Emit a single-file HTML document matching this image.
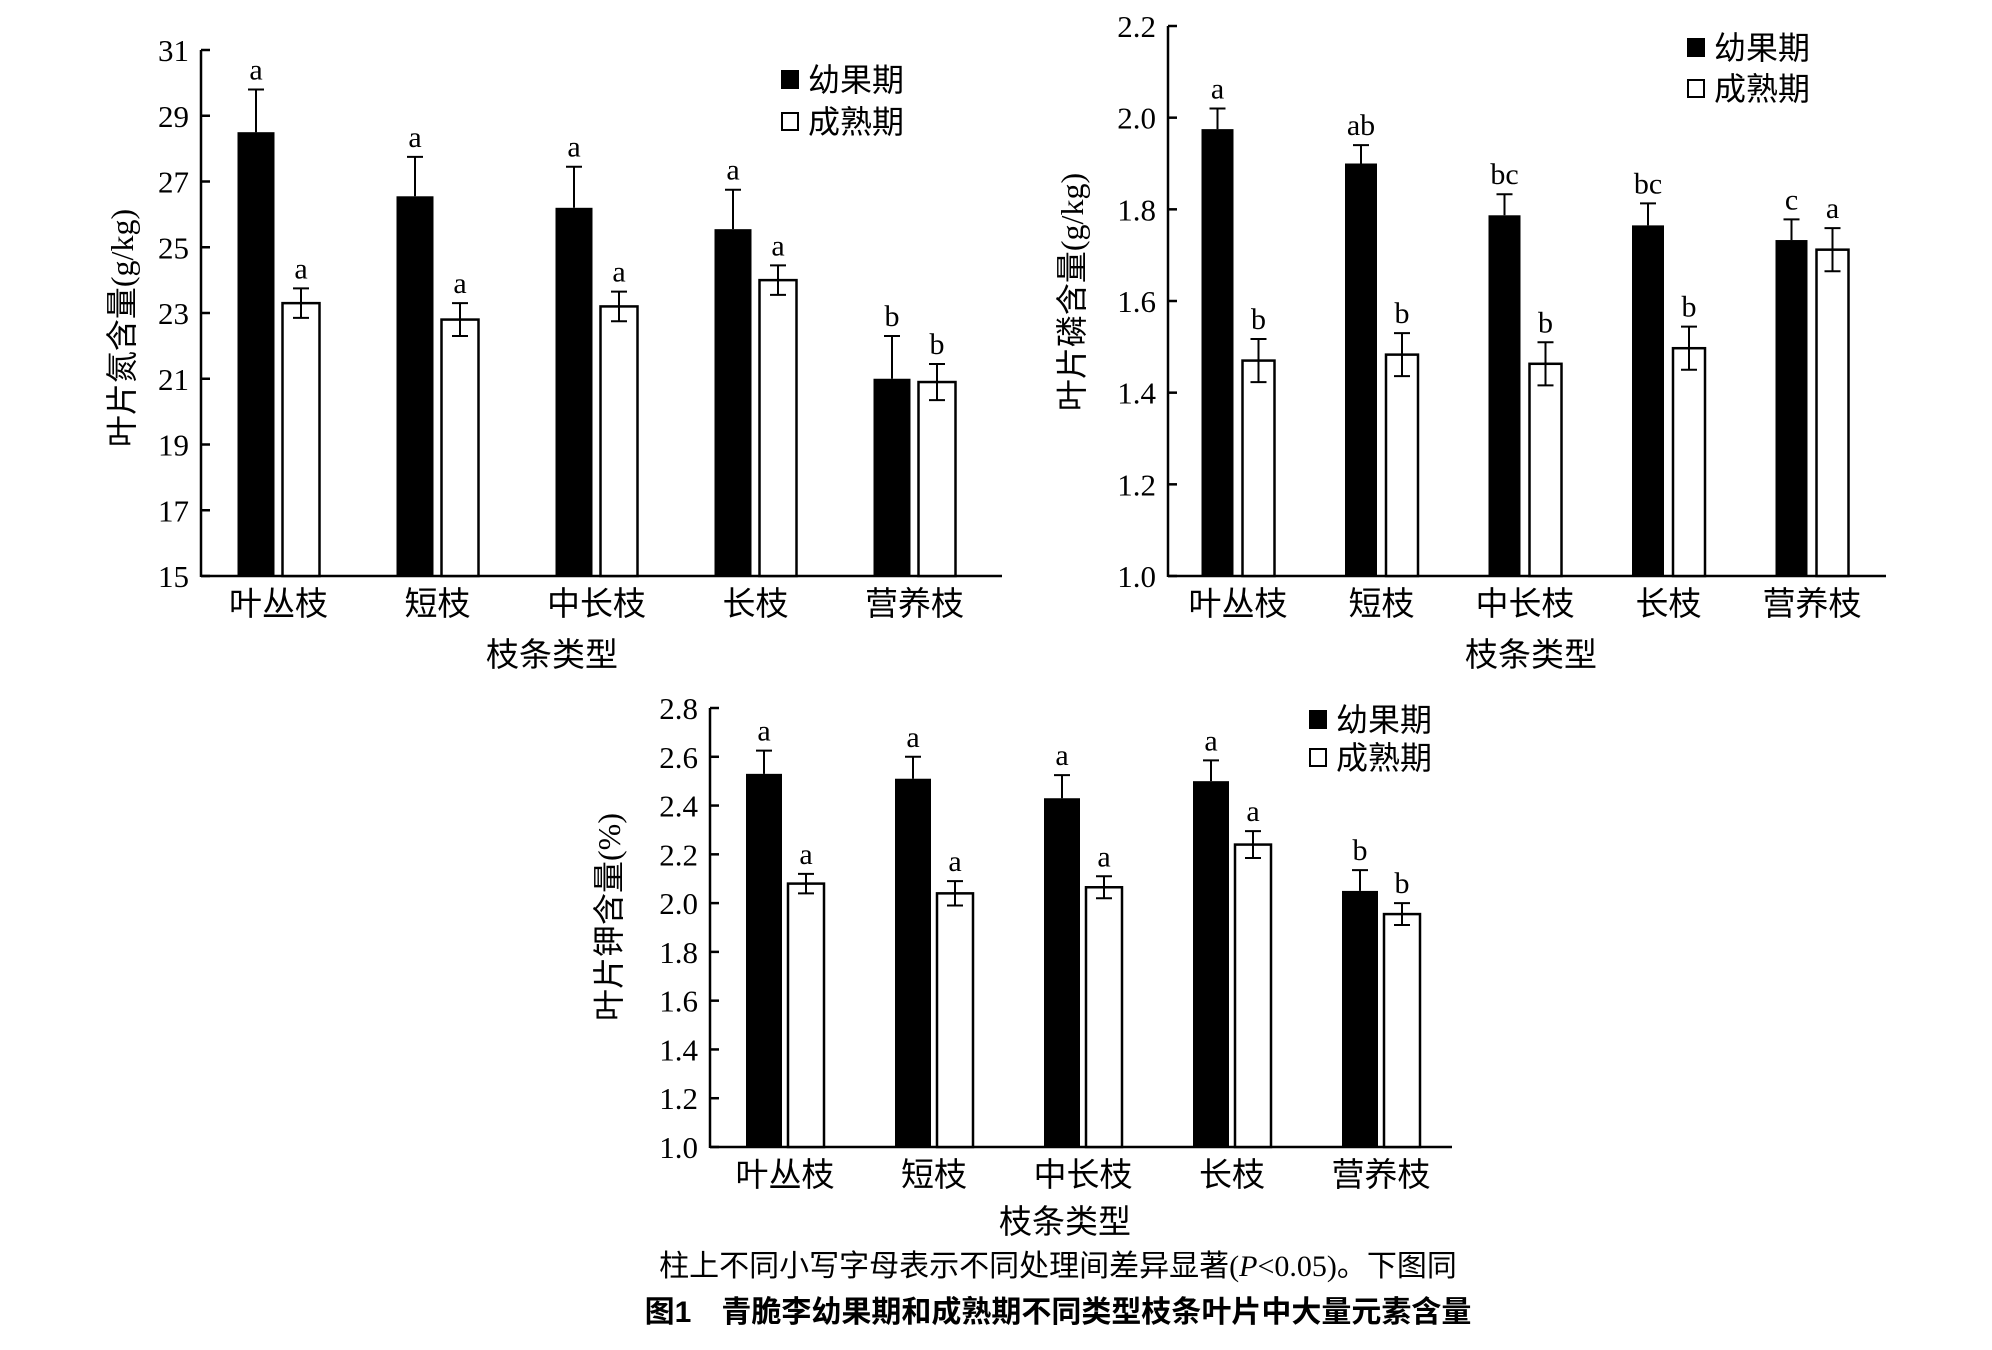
<!DOCTYPE html>
<html><head><meta charset="utf-8"><style>
body{margin:0;background:#fff;}
svg{display:block;}
text{font-family:"Liberation Serif","Noto Serif CJK SC","Noto Sans CJK SC",serif;fill:#000;}
.cj{font-family:"Liberation Serif","Noto Sans CJK SC",sans-serif;}
</style></head><body>
<svg id="fig" width="1992" height="1350" viewBox="0 0 1992 1350" xmlns="http://www.w3.org/2000/svg">
<g id="c1"></g>
<g id="c2"></g>
<g id="c3"></g>
<text x="1058" y="1276" text-anchor="middle" font-size="30" class="cj">柱上不同小写字母表示不同处理间差异显著(<tspan font-style="italic">P</tspan>&lt;0.05)。下图同</text>
<text x="1058" y="1322" text-anchor="middle" font-size="30" font-weight="bold" style="font-family:'Liberation Sans','Noto Sans CJK SC',sans-serif">图1　青脆李幼果期和成熟期不同类型枝条叶片中大量元素含量</text>
</svg>
<script>
const categories = ["叶丛枝","短枝","中长枝","长枝","营养枝"];
// Nitrogen (g/kg)
const nYoung = [28.5,26.55,26.2,25.55,21.0];
const nYoungErr = [1.3,1.2,1.25,1.2,1.3];
const nMature = [23.3,22.8,23.2,24.0,20.9];
const nMatureErr = [0.45,0.5,0.45,0.45,0.55];
const nYoungLetters = ["a","a","a","a","b"];
const nMatureLetters = ["a","a","a","a","b"];
const nTicks = [15,17,19,21,23,25,27,29,31];
// Phosphorus (g/kg)
const pYoung = [1.975,1.90,1.787,1.765,1.733];
const pYoungErr = [0.045,0.04,0.046,0.048,0.045];
const pMature = [1.47,1.483,1.463,1.497,1.712];
const pMatureErr = [0.047,0.047,0.047,0.047,0.047];
const pYoungLetters = ["a","ab","bc","bc","c"];
const pMatureLetters = ["b","b","b","b","a"];
const pTicks = [1.0,1.2,1.4,1.6,1.8,2.0,2.2];
// Potassium (%)
const kYoung = [2.53,2.51,2.43,2.50,2.05];
const kYoungErr = [0.095,0.09,0.095,0.085,0.085];
const kMature = [2.08,2.04,2.065,2.24,1.955];
const kMatureErr = [0.04,0.05,0.045,0.055,0.045];
const kYoungLetters = ["a","a","a","a","b"];
const kMatureLetters = ["a","a","a","a","b"];
const kTicks = [1.0,1.2,1.4,1.6,1.8,2.0,2.2,2.4,2.6,2.8];

const NS="http://www.w3.org/2000/svg";
function mk(parent,tag,attrs,txt){const e=document.createElementNS(NS,tag);for(const k in attrs)e.setAttribute(k,attrs[k]);if(txt!==undefined)e.textContent=txt;parent.appendChild(e);return e;}

function chart(g,cfg,young,youngErr,mature,matureErr,yl,ml,ticks,dec){
  const ymin=ticks[0],ymax=ticks[ticks.length-1];
  const y=v=>cfg.y0-(v-ymin)/(ymax-ymin)*(cfg.y0-cfg.y1);
  const gx=i=>cfg.c0+i*cfg.step;
  const bw=cfg.bw,gap=cfg.gap;
  // axes
  let a=mk(g,'line',{x1:cfg.x0,y1:cfg.y1,x2:cfg.x0,y2:cfg.y0+1,stroke:'#000','stroke-width':2.5});
  
  
  a=mk(g,'line',{x1:cfg.x0,y1:cfg.y0,x2:cfg.xe,y2:cfg.y0,stroke:'#000','stroke-width':2.5});
  
  
  ticks.forEach(t=>{
    const tl=mk(g,'line',{x1:cfg.x0,y1:y(t),x2:cfg.x0+9,y2:y(t),stroke:'#000','stroke-width':2.5});
    
    
    const tt=mk(g,'text',{x:cfg.x0-12,y:y(t)+11,'text-anchor':'end','font-size':31},t.toFixed(dec));
    
    
  });
  categories.forEach((c,i)=>{
    const cx=gx(i);
    const bx=cx-gap/2-bw, wx=cx+gap/2;
    const b=mk(g,'rect',{x:bx,y:y(young[i]),width:bw,height:cfg.y0-y(young[i]),fill:'#000'});
    
    
    const w=mk(g,'rect',{x:wx,y:y(mature[i]),width:bw,height:cfg.y0-y(mature[i]),fill:'#fff',stroke:'#000','stroke-width':2.5});
    
    
    const bc=bx+bw/2, wc=wx+bw/2;
    const yt=y(young[i]+youngErr[i]);
    const e1=mk(g,'path',{d:`M${bc},${y(young[i])}V${yt}M${bc-8},${yt}H${bc+8}`,stroke:'#000','stroke-width':2,fill:'none'});
    
    
    const mt=y(mature[i]+matureErr[i]), mb=y(mature[i]-matureErr[i]);
    const e2=mk(g,'path',{d:`M${wc},${mb}V${mt}M${wc-8},${mt}H${wc+8}M${wc-8},${mb}H${wc+8}`,stroke:'#000','stroke-width':2,fill:'none'});
    
    
    const l1=mk(g,'text',{x:bc,y:yt-10,'text-anchor':'middle','font-size':30},yl[i]);
    
    
    const l2=mk(g,'text',{x:wc,y:mt-10,'text-anchor':'middle','font-size':30},ml[i]);
    
    
    const cl=mk(g,'text',{x:cx,y:cfg.y0+39,'text-anchor':'middle','font-size':33,class:'cj'},c);
    
    
  });
  const xt=mk(g,'text',{x:cfg.xtx,y:cfg.xty,'text-anchor':'middle','font-size':33,class:'cj'},'枝条类型');
  
  
  const yt=mk(g,'text',{x:0,y:0,'text-anchor':'middle','font-size':32,class:'cj',transform:`translate(${cfg.ytx},${cfg.yty}) rotate(-90)`},cfg.ytitle);
  
  
  const ls=mk(g,'rect',{x:cfg.lx,y:cfg.ly-10,width:18,height:19,fill:'#000'});
  
  
  const lt=mk(g,'text',{x:cfg.lx+27,y:cfg.ly+11,'font-size':32,class:'cj'},'幼果期');
  
  
  const ls2=mk(g,'rect',{x:cfg.lx+1,y:cfg.ly+cfg.ld-9,width:16,height:17,fill:'#fff',stroke:'#000','stroke-width':2});
  
  
  const lt2=mk(g,'text',{x:cfg.lx+27,y:cfg.ly+cfg.ld+11,'font-size':32,class:'cj'},'成熟期');
  
  
}
chart(document.getElementById('c1'),{x0:201,xe:1002,y0:576,y1:50,c0:278.5,step:159,bw:37,gap:8,xtx:552,xty:666,ytx:133,yty:328,ytitle:'叶片氮含量(g/kg)',lx:781,ly:80,ld:42},nYoung,nYoungErr,nMature,nMatureErr,nYoungLetters,nMatureLetters,nTicks,0);
chart(document.getElementById('c2'),{x0:1168,xe:1886,y0:576,y1:26,c0:1238,step:143.5,bw:32,gap:9,xtx:1531,xty:666,ytx:1083,yty:292,ytitle:'叶片磷含量(g/kg)',lx:1687,ly:48,ld:41},pYoung,pYoungErr,pMature,pMatureErr,pYoungLetters,pMatureLetters,pTicks,1);
chart(document.getElementById('c3'),{x0:710,xe:1452,y0:1147,y1:708,c0:785,step:149,bw:36,gap:6,xtx:1065,xty:1233,ytx:620,yty:917,ytitle:'叶片钾含量(%)',lx:1309,ly:720,ld:38},kYoung,kYoungErr,kMature,kMatureErr,kYoungLetters,kMatureLetters,kTicks,1);
</script>
</body></html>
